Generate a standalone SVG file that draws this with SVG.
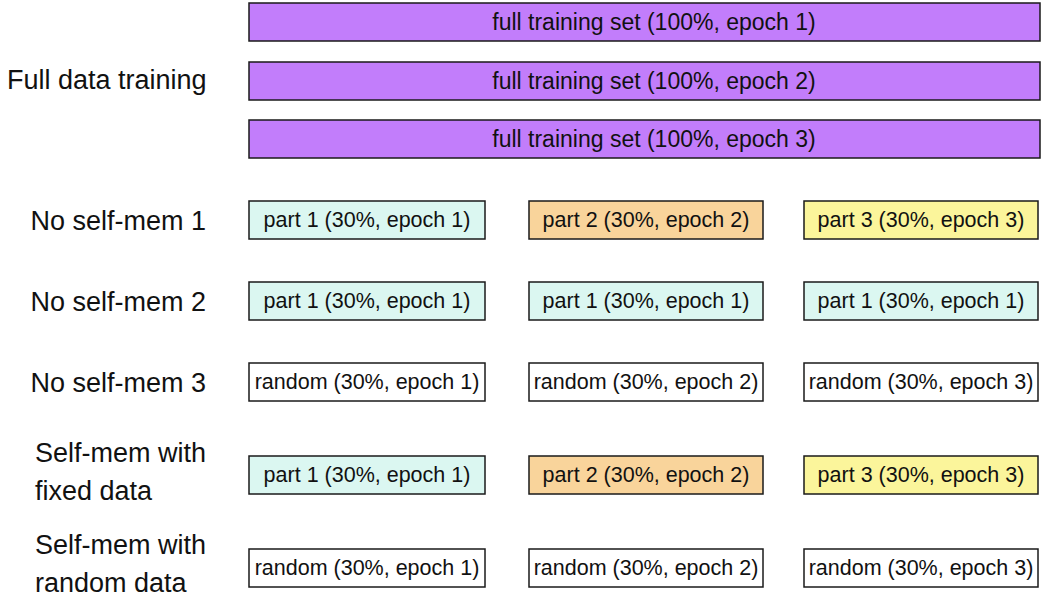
<svg xmlns="http://www.w3.org/2000/svg" width="1044" height="601" viewBox="0 0 1044 601">
<style>
  .box { stroke: #1a1a1a; stroke-width: 1.5; }
  .full { fill: #c27dfb; }
  .p1 { fill: #dbf7f1; }
  .p2 { fill: #f9d49b; }
  .p3 { fill: #fbf59b; }
  .rnd { fill: #ffffff; }
  .bt { font-family: "Liberation Sans", Arial, sans-serif; font-size: 21.5px; fill: #111; text-anchor: middle; dominant-baseline: central; }
  .ft { font-family: "Liberation Sans", Arial, sans-serif; font-size: 23px; fill: #111; text-anchor: middle; dominant-baseline: central; }
  .lbl { font-family: "Liberation Sans", Arial, sans-serif; font-size: 27px; fill: #111; }
</style>
<rect width="1044" height="601" fill="#ffffff"/>
<g id="labels">
  <text class="lbl" x="7" y="89">Full data training</text>
  <text class="lbl" x="206" y="230" text-anchor="end">No self-mem 1</text>
  <text class="lbl" x="206" y="311" text-anchor="end">No self-mem 2</text>
  <text class="lbl" x="206" y="392" text-anchor="end">No self-mem 3</text>
  <text class="lbl" x="35" y="462">Self-mem with</text>
  <text class="lbl" x="35" y="500">fixed data</text>
  <text class="lbl" x="35" y="554">Self-mem with</text>
  <text class="lbl" x="35" y="592">random data</text>
</g>
<g id="full1"><rect class="box full" x="249" y="3" width="791" height="38"/><text class="ft" x="654" y="22">full training set (100%, epoch 1)</text></g>
<g id="full2"><rect class="box full" x="249" y="62" width="791" height="38"/><text class="ft" x="654" y="81">full training set (100%, epoch 2)</text></g>
<g id="full3"><rect class="box full" x="249" y="120" width="791" height="38"/><text class="ft" x="654" y="139">full training set (100%, epoch 3)</text></g>

<g id="r1c1"><rect class="box p1" x="249" y="201" width="236" height="38"/><text class="bt" x="367" y="220">part 1 (30%, epoch 1)</text></g>
<g id="r1c2"><rect class="box p2" x="529" y="201" width="234" height="38"/><text class="bt" x="646" y="220">part 2 (30%, epoch 2)</text></g>
<g id="r1c3"><rect class="box p3" x="804" y="201" width="234" height="38"/><text class="bt" x="921" y="220">part 3 (30%, epoch 3)</text></g>

<g id="r2c1"><rect class="box p1" x="249" y="282" width="236" height="38"/><text class="bt" x="367" y="301">part 1 (30%, epoch 1)</text></g>
<g id="r2c2"><rect class="box p1" x="529" y="282" width="234" height="38"/><text class="bt" x="646" y="301">part 1 (30%, epoch 1)</text></g>
<g id="r2c3"><rect class="box p1" x="804" y="282" width="234" height="38"/><text class="bt" x="921" y="301">part 1 (30%, epoch 1)</text></g>

<g id="r3c1"><rect class="box rnd" x="249" y="363" width="236" height="38"/><text class="bt" x="367" y="382">random (30%, epoch 1)</text></g>
<g id="r3c2"><rect class="box rnd" x="529" y="363" width="234" height="38"/><text class="bt" x="646" y="382">random (30%, epoch 2)</text></g>
<g id="r3c3"><rect class="box rnd" x="804" y="363" width="234" height="38"/><text class="bt" x="921" y="382">random (30%, epoch 3)</text></g>

<g id="r4c1"><rect class="box p1" x="249" y="456" width="236" height="38"/><text class="bt" x="367" y="475">part 1 (30%, epoch 1)</text></g>
<g id="r4c2"><rect class="box p2" x="529" y="456" width="234" height="38"/><text class="bt" x="646" y="475">part 2 (30%, epoch 2)</text></g>
<g id="r4c3"><rect class="box p3" x="804" y="456" width="234" height="38"/><text class="bt" x="921" y="475">part 3 (30%, epoch 3)</text></g>

<g id="r5c1"><rect class="box rnd" x="249" y="549" width="236" height="38"/><text class="bt" x="367" y="568">random (30%, epoch 1)</text></g>
<g id="r5c2"><rect class="box rnd" x="529" y="549" width="234" height="38"/><text class="bt" x="646" y="568">random (30%, epoch 2)</text></g>
<g id="r5c3"><rect class="box rnd" x="804" y="549" width="234" height="38"/><text class="bt" x="921" y="568">random (30%, epoch 3)</text></g>
<g id="connectors"></g>
</svg>
